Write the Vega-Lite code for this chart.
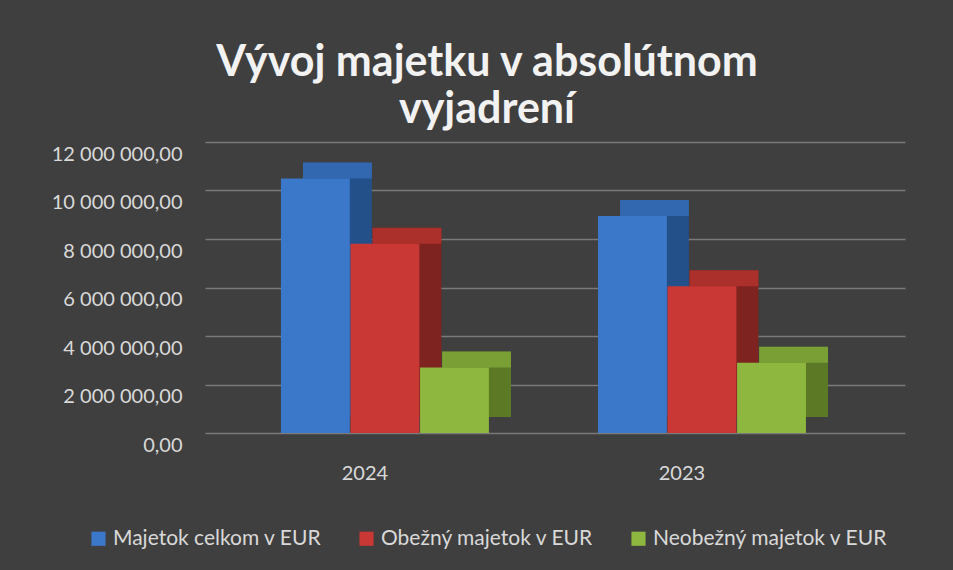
{
  "$schema": "https://vega.github.io/schema/vega-lite/v6.json",
  "autosize": {"type": "none"},
  "width": 700,
  "height": 291,
  "padding": {"left": 205, "top": 142, "right": 48, "bottom": 137},
  "background": "#3f3f3f",
  "title": {
    "text": ["Vývoj majetku v absolútnom", "vyjadrení"],
    "font": "Lato",
    "fontSize": 43,
    "fontWeight": "bold",
    "color": "#f2f2f2",
    "anchor": "middle",
    "dx": -68,
    "lineHeight": 47,
    "offset": 10
  },
  "data": {
    "values": [
      {"year": "2024", "series": "Majetok celkom v EUR", "value": 10500000},
      {"year": "2024", "series": "Obežný majetok v EUR", "value": 7800000},
      {"year": "2024", "series": "Neobežný majetok v EUR", "value": 2700000},
      {"year": "2023", "series": "Majetok celkom v EUR", "value": 8950000},
      {"year": "2023", "series": "Obežný majetok v EUR", "value": 6050000},
      {"year": "2023", "series": "Neobežný majetok v EUR", "value": 2900000}
    ]
  },
  "encoding": {
    "xOffset": {
      "field": "series",
      "type": "nominal",
      "sort": ["Majetok celkom v EUR", "Obežný majetok v EUR", "Neobežný majetok v EUR"],
      "scale": {"paddingInner": 0.01, "paddingOuter": 0}
    },
    "y": {
      "field": "value",
      "type": "quantitative",
      "scale": {"domain": [0, 12000000], "nice": false},
      "axis": {
        "title": null,
        "values": [0, 2000000, 4000000, 6000000, 8000000, 10000000, 12000000],
        "format": ",.2f",
        "domain": false,
        "ticks": false,
        "labelPadding": 23,
        "labelOffset": 12,
        "labelFontSize": 20,
        "labelFont": "Lato",
        "labelColor": "#d9d9d9",
        "gridColor": "#7a7a7a",
        "gridWidth": 1.5
      }
    }
  },
  "layer": [
    {
      "mark": {"type": "bar", "yOffset": -16, "y2Offset": -16},
      "encoding": {
        "x": {
          "field": "year",
          "type": "nominal",
          "sort": ["2024", "2023"],
          "scale": {"paddingInner": 0.344, "paddingOuter": 0.276, "align": 0.56},
          "axis": null
        },
        "fill": {
          "field": "series",
          "type": "nominal",
          "sort": ["Majetok celkom v EUR", "Obežný majetok v EUR", "Neobežný majetok v EUR"],
          "scale": {"range": ["#24508a", "#7e2320", "#5c7a26"]},
          "legend": null
        }
      }
    },
    {
      "mark": {"type": "bar", "yOffset": -16, "fillOpacity": 0.6},
      "encoding": {
        "x": {
          "field": "year",
          "type": "nominal",
          "sort": ["2024", "2023"],
          "scale": {"paddingInner": 0.344, "paddingOuter": 0.276, "align": 0.56},
          "axis": null
        },
        "y2": {"field": "value"},
        "color": {
          "field": "series",
          "type": "nominal",
          "sort": ["Majetok celkom v EUR", "Obežný majetok v EUR", "Neobežný majetok v EUR"]
        }
      }
    },
    {
      "mark": {"type": "bar", "fillOpacity": 1, "opacity": 1},
      "encoding": {
        "x": {
          "field": "year",
          "type": "nominal",
          "sort": ["2024", "2023"],
          "scale": {"paddingInner": 0.344, "paddingOuter": 0.276, "align": 0.434},
          "axis": {"title": null, "domain": false, "ticks": false, "labelAngle": 0, "labelOffset": -20, "labelPadding": 30, "labelFontSize": 20, "labelFont": "Lato", "labelColor": "#d9d9d9", "grid": false}
        },
        "color": {
          "field": "series",
          "type": "nominal",
          "sort": ["Majetok celkom v EUR", "Obežný majetok v EUR", "Neobežný majetok v EUR"],
          "scale": {"range": ["#3b78c9", "#c93834", "#8db73f"]},
          "legend": {
            "title": null,
            "orient": "none",
            "legendX": -117,
            "legendY": 386,
            "direction": "horizontal",
            "symbolType": "square",
            "symbolSize": 200,
            "symbolStrokeWidth": 0,
            "symbolOpacity": 1,
            "labelFontSize": 21,
            "labelFont": "Lato",
            "labelColor": "#d9d9d9",
            "columnPadding": 34,
            "labelLimit": 400
          }
        }
      }
    }
  ],
  "resolve": {"scale": {"x": "independent", "xOffset": "independent"}, "axis": {"x": "independent"}},
  "config": {
    "view": {"stroke": null},
    "locale": {"number": {"decimal": ",", "thousands": " ", "grouping": [3], "currency": ["", " €"]}}
  }
}
